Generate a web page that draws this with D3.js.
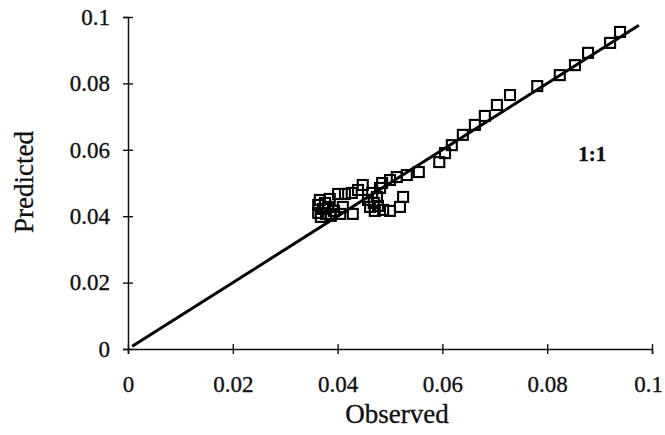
<!DOCTYPE html>
<html>
<head>
<meta charset="utf-8">
<script src="https://cdn.jsdelivr.net/npm/d3@7"></script>
<style>
body { margin: 0; background: #fff; }
svg text { font-family: "Liberation Serif", "Times New Roman", serif; fill: #111; stroke: #111; stroke-width: 0.35px; }
</style>
</head>
<body>
<div id="graphic"></div>
<script>
var observed = [
    0.0363, 0.0363, 0.0366, 0.0368, 0.0372, 0.0376, 0.0378, 0.0382, 0.0385, 0.0387,
    0.0393, 0.0401, 0.0405, 0.0410, 0.0414, 0.0427, 0.0429, 0.0439, 0.0448,
    0.0458, 0.0462, 0.0466, 0.0469, 0.0471, 0.0475, 0.0477, 0.0481, 0.0485, 0.0487,
    0.0500, 0.0500, 0.0513, 0.0519, 0.0525, 0.0532, 0.0555,
    0.0594, 0.0605, 0.0618, 0.0639, 0.0662, 0.0681, 0.0704, 0.0729, 0.0781,
    0.0824, 0.0853, 0.0878, 0.0920, 0.0939
];
var predicted = [
    0.0434, 0.0410, 0.0449, 0.0398, 0.0422, 0.0440, 0.0407, 0.0428, 0.0452, 0.0401,
    0.0416, 0.0467, 0.0407, 0.0428, 0.0467, 0.0470, 0.0407, 0.0479, 0.0494,
    0.0449, 0.0428, 0.0470, 0.0440, 0.0416, 0.0458, 0.0431, 0.0485, 0.0500, 0.0419,
    0.0509, 0.0416, 0.0518, 0.0428, 0.0458, 0.0524, 0.0533,
    0.0563, 0.0590, 0.0614, 0.0645, 0.0675, 0.0702, 0.0735, 0.0765, 0.0792,
    0.0825, 0.0855, 0.0892, 0.0922, 0.0955
];
var lineEnds = [0.0008, 0.0975];
var ticks = [0, 0.02, 0.04, 0.06, 0.08, 0.1];

var margin = { top: 17, right: 13, bottom: 86, left: 128 };
var width = 665 - margin.left - margin.right,
    height = 435 - margin.top - margin.bottom;

var svg = d3.select("#graphic").append("svg")
    .attr("width", 665)
    .attr("height", 435)
    .append("g")
    .attr("transform", "translate(" + margin.left + "," + margin.top + ")");

var x = d3.scaleLinear().domain([0, 0.1]).range([0, width]);
var y = d3.scaleLinear().domain([0, 0.1]).range([height, 0]);

function fmt(d) { return d === 0 ? "0" : d3.format(".2~f")(d); }

var xAxis = svg.append("g")
    .attr("transform", "translate(0," + height + ")")
    .call(d3.axisBottom(x).tickValues(ticks).tickSize(5).tickPadding(22).tickFormat(fmt));
xAxis.selectAll("line").attr("y1", -5);
// last label sits at the page edge, nudge it in a little
xAxis.selectAll(".tick text").filter(function (d) { return d === 0.1; }).attr("dx", -4);

var yAxis = svg.append("g")
    .call(d3.axisLeft(y).tickValues(ticks).tickSize(5).tickPadding(13).tickFormat(fmt));
yAxis.selectAll("line").attr("x1", 5);

svg.selectAll("g").attr("font-family", null).attr("font-size", null);
svg.selectAll(".domain").attr("stroke", "#111").attr("stroke-width", 1.5);
svg.selectAll(".tick line").attr("stroke", "#111").attr("stroke-width", 1.4);
svg.selectAll(".tick text").style("font-size", "23px");

// 1:1 line
svg.append("line")
    .attr("x1", x(lineEnds[0])).attr("y1", y(lineEnds[0]))
    .attr("x2", x(lineEnds[1])).attr("y2", y(lineEnds[1]))
    .attr("stroke", "#000")
    .attr("stroke-width", 3);

var pts = observed.map(function (d, i) { return [d, predicted[i]]; });
var s = 10;
svg.selectAll("rect.pt").data(pts).enter().append("rect")
    .attr("class", "pt")
    .attr("x", function (d) { return x(d[0]) - s / 2; })
    .attr("y", function (d) { return y(d[1]) - s / 2; })
    .attr("width", s).attr("height", s)
    .attr("fill", "none")
    .attr("stroke", "#000")
    .attr("stroke-width", 2.1);

svg.append("text")
    .attr("x", x(0.08) + 45)
    .attr("y", y(0.058) + 5)
    .attr("text-anchor", "middle")
    .style("font-size", "21px")
    .style("font-weight", "bold")
    .text("1:1");

svg.append("text")
    .attr("x", width / 2 + 7)
    .attr("y", height + 74)
    .attr("text-anchor", "middle")
    .style("font-size", "27px")
    .text("Observed");

svg.append("text")
    .attr("transform", "rotate(-90)")
    .attr("x", -height / 2 + 1)
    .attr("y", -95)
    .attr("text-anchor", "middle")
    .style("font-size", "27px")
    .text("Predicted");
</script>
</body>
</html>
